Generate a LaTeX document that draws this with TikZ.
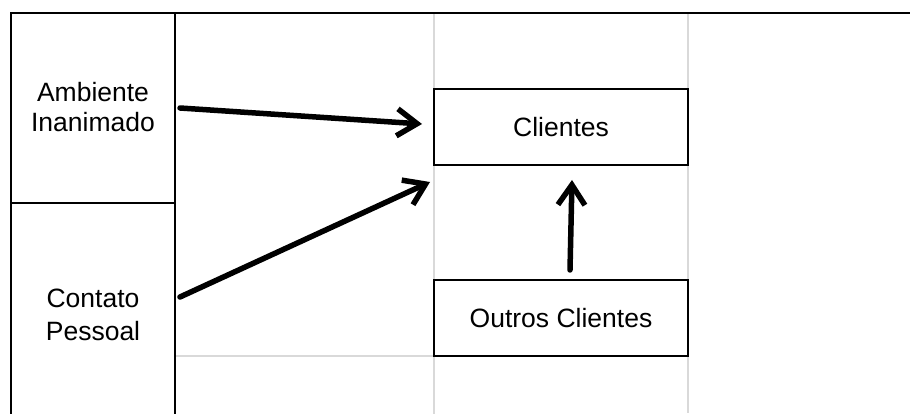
\documentclass[tikz,border=0pt]{standalone}
\usepackage{fontspec}
\setmainfont{Liberation Sans}
\usetikzlibrary{arrows.meta}
\begin{document}
\begin{tikzpicture}[x=1pt,y=-1pt,
  frame/.style={draw=black, line width=2.2pt},
  thinframe/.style={draw=black, line width=1.6pt},
  gridline/.style={draw=black!15, line width=2pt},
  box/.style={draw=black, fill=white, line width=2.2pt, minimum width=254pt, minimum height=76pt, inner sep=0pt, font=\fontsize{26.5}{29.5}\selectfont},
  cell/.style={align=center, inner sep=0pt, font=\fontsize{26.5}{29.5}\selectfont},
  arr/.style={line width=5.5pt, line cap=round, line join=round, -{Straight Barb[length=20pt,width=27pt]}}]
\useasboundingbox (0,0) rectangle (910,414);
% light grid lines
\draw[gridline] (434,13) -- (434,414);
\draw[gridline] (688,13) -- (688,413);
\draw[gridline] (175,356) -- (434,356);
% table frame
\draw[frame] (10,13) -- (910,13);
\draw[frame] (11,13) -- (11,414);
\draw[frame] (175,13) -- (175,414);
\draw[thinframe] (11,203) -- (175,203);
% labels
\node[cell] (amb) at (93,107) {Ambiente\\Inanimado};
\node[cell, font=\fontsize{26.5}{32.5}\selectfont] (con) at (93,315) {Contato\\Pessoal};
% boxes
\node[box] (cli) at (561,127) {Clientes};
\node[box] (out) at (561,318) {Outros Clientes};
% arrow ends
\coordinate (a1s) at (180,108);
\coordinate (a1e) at (422,124);
\coordinate (a2s) at (180,297);
\coordinate (a2e) at (430,182);
\coordinate (a3s) at (570,270);
\coordinate (a3e) at (572,180);
\draw[arr] (a1s) -- (a1e);
\draw[arr] (a2s) -- (a2e);
\draw[arr] (a3s) -- (a3e);
\end{tikzpicture}
\end{document}
